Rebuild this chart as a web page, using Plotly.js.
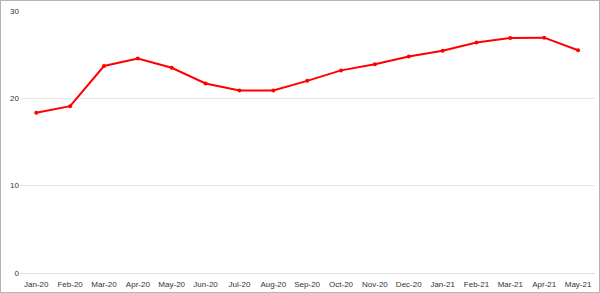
<!DOCTYPE html>
<html>
<head>
<meta charset="utf-8">
<script src="https://cdn.plot.ly/plotly-3.0.1.min.js"></script>
<style>
html,body{margin:0;padding:0;background:#fff;}
#wrap{width:598px;height:291px;border:1px solid #b4b4b4;}
#chart{width:598px;height:291px;}
</style>
</head>
<body>
<div id="wrap"><div id="chart"></div></div>
<script>
const months = ["Jan-20","Feb-20","Mar-20","Apr-20","May-20","Jun-20","Jul-20","Aug-20","Sep-20","Oct-20","Nov-20","Dec-20","Jan-21","Feb-21","Mar-21","Apr-21","May-21"];
const values = [18.35,19.1,23.7,24.55,23.5,21.7,20.9,20.9,22.0,23.2,23.9,24.8,25.45,26.4,26.9,26.95,25.5];
const yTicks = [0,10,20,30];

Plotly.newPlot('chart',[{
  x: months, y: values, type:'scatter', mode:'lines+markers',
  line:{color:'#ff0000', width:2},
  marker:{color:'#ff0000', size:4},
  hoverinfo:'skip'
}],{
  width:598, height:291,
  margin:{l:19,r:4,t:10,b:19},
  paper_bgcolor:'#fff', plot_bgcolor:'#fff',
  showlegend:false,
  font:{family:'Liberation Sans, Arial, sans-serif', size:8, color:'#333'},
  xaxis:{type:'category', range:[-0.48,16.5], showgrid:false, zeroline:false, showline:false, ticks:'outside', ticklen:3, tickcolor:'rgba(0,0,0,0)', tickfont:{size:8,color:'#333'}, fixedrange:true},
  yaxis:{range:[0,30], tickvals:yTicks, ticktext:yTicks.map(String), showgrid:true, gridcolor:'#e8e8e8', gridwidth:1, zeroline:true, zerolinecolor:'#e0e0e0', zerolinewidth:1, showline:false, ticks:'', tickfont:{size:8,color:'#333'}, fixedrange:true}
},{displayModeBar:false, staticPlot:true});
</script>
</body>
</html>
